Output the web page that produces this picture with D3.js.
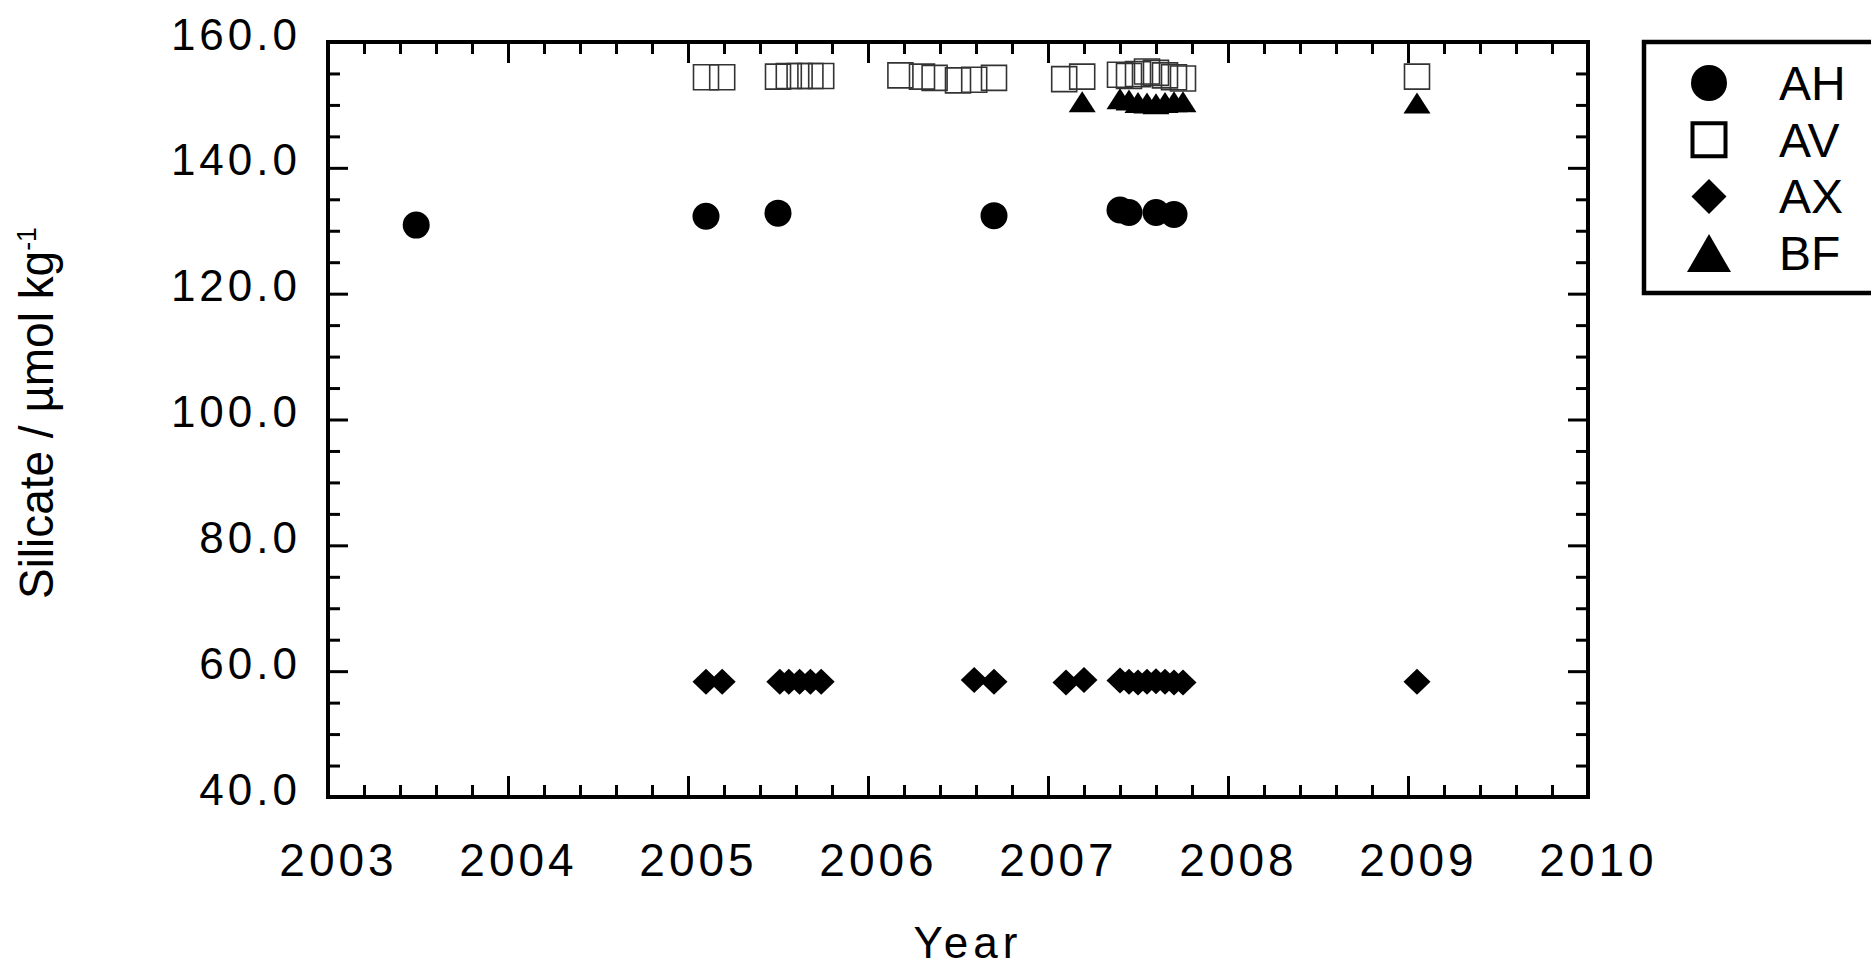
<!DOCTYPE html>
<html>
<head>
<meta charset="utf-8">
<script src="https://cdn.jsdelivr.net/npm/d3@7"></script>
<style>
  body { margin: 0; background: #fff; }
  text { font-family: "Liberation Sans", Arial, sans-serif; fill: #000; }
</style>
</head>
<body>
<div id="chart"></div>
<script>
// values
const yearTicks = [2003, 2004, 2005, 2006, 2007, 2008, 2009, 2010];
const siTicks = [40, 60, 80, 100, 120, 140, 160];

const ahYear = [2003.49, 2005.10, 2005.50, 2006.70, 2007.40, 2007.45, 2007.60, 2007.70];
const ahSi   = [130.9, 132.3, 132.8, 132.4, 133.3, 132.9, 132.9, 132.6];

const avYear = [2005.10, 2005.19, 2005.50, 2005.56, 2005.62, 2005.68, 2005.74,
                2006.18, 2006.30, 2006.37, 2006.50, 2006.59, 2006.70,
                2007.09, 2007.19, 2007.40, 2007.45, 2007.50, 2007.55, 2007.60, 2007.65, 2007.70, 2007.75,
                2009.05];
const avSi   = [154.4, 154.4, 154.5, 154.6, 154.6, 154.6, 154.6,
                154.7, 154.5, 154.3, 153.9, 154.0, 154.3,
                154.1, 154.5, 154.8, 154.6, 154.9, 155.3, 155.1, 154.7, 154.4, 154.2,
                154.5];

const axYear = [2005.10, 2005.19, 2005.51, 2005.56, 2005.62, 2005.68, 2005.74,
                2006.59, 2006.70, 2007.10, 2007.20,
                2007.40, 2007.45, 2007.50, 2007.55, 2007.60, 2007.65, 2007.70, 2007.75,
                2009.05];
const axSi   = [58.3, 58.3, 58.3, 58.3, 58.3, 58.3, 58.3,
                58.6, 58.3, 58.2, 58.6,
                58.5, 58.3, 58.2, 58.3, 58.4, 58.3, 58.2, 58.2,
                58.3];

const bfYear = [2007.19, 2007.40, 2007.45, 2007.50, 2007.55, 2007.60, 2007.65, 2007.70, 2007.75, 2009.05];
const bfSi   = [150.5, 151.0, 150.8, 150.4, 150.3, 150.2, 150.4, 150.5, 150.5, 150.3];

const seriesNames = ["AH", "AV", "AX", "BF"];

const width = 1871, height = 970;
const plotLeft = 328, plotRight = 1588, plotTop = 42, plotBottom = 797;

const svg = d3.select("#chart").append("svg")
    .attr("width", width)
    .attr("height", height);

const x = d3.scaleLinear().domain([2003, 2010]).range([plotLeft, plotRight]);
const y = d3.scaleLinear().domain([40, 160]).range([plotBottom, plotTop]);

const minorX = d3.range(2003, 2010.001, 0.2).filter(v => Math.abs(v - Math.round(v)) > 0.01);
const minorY = d3.range(40, 160.001, 5).filter(v => v % 20 !== 0);

function styleAxis(g) {
    g.select(".domain").remove();
    g.selectAll(".tick line").attr("stroke", "#000").attr("stroke-width", 3);
}

// minor and major ticks, all pointing inward
svg.append("g").attr("transform", `translate(0,${plotBottom})`)
    .call(d3.axisBottom(x).tickValues(minorX).tickSize(-12).tickFormat(""))
    .call(styleAxis);
svg.append("g").attr("transform", `translate(0,${plotTop})`)
    .call(d3.axisTop(x).tickValues(minorX).tickSize(-12).tickFormat(""))
    .call(styleAxis);
svg.append("g").attr("transform", `translate(0,${plotTop})`)
    .call(d3.axisTop(x).tickValues(yearTicks).tickSize(-21).tickFormat(""))
    .call(styleAxis);
svg.append("g").attr("transform", `translate(${plotLeft},0)`)
    .call(d3.axisLeft(y).tickValues(minorY).tickSize(-12).tickFormat(""))
    .call(styleAxis);
svg.append("g").attr("transform", `translate(${plotRight},0)`)
    .call(d3.axisRight(y).tickValues(minorY).tickSize(-12).tickFormat(""))
    .call(styleAxis);
svg.append("g").attr("transform", `translate(${plotRight},0)`)
    .call(d3.axisRight(y).tickValues(siTicks).tickSize(-20).tickFormat(""))
    .call(styleAxis);

const xAxis = svg.append("g").attr("transform", `translate(0,${plotBottom})`)
    .call(d3.axisBottom(x).tickValues(yearTicks).tickSize(-21).tickFormat(d3.format("d")))
    .call(styleAxis);
xAxis.selectAll(".tick text")
    .attr("y", 79).attr("dy", 0).attr("x", 10)
    .style("font-size", "46px")
    .style("letter-spacing", "4px")
    .style("font-family", "'Liberation Sans', Arial, sans-serif");

const yAxis = svg.append("g").attr("transform", `translate(${plotLeft},0)`)
    .call(d3.axisLeft(y).tickValues(siTicks).tickSize(-20).tickFormat(d3.format(".1f")))
    .call(styleAxis);
yAxis.selectAll(".tick text")
    .attr("x", -27).attr("dy", 7)
    .style("font-size", "44px")
    .style("letter-spacing", "4px")
    .style("font-family", "'Liberation Sans', Arial, sans-serif");

// frame
svg.append("rect")
    .attr("x", plotLeft).attr("y", plotTop)
    .attr("width", plotRight - plotLeft).attr("height", plotBottom - plotTop)
    .attr("fill", "none").attr("stroke", "#000").attr("stroke-width", 4);

// axis titles
svg.append("text")
    .attr("x", 968).attr("y", 958)
    .attr("text-anchor", "middle")
    .style("font-size", "44px")
    .style("letter-spacing", "5px")
    .text("Year");

const yTitle = svg.append("text")
    .attr("transform", "translate(53,413) rotate(-90)")
    .attr("text-anchor", "middle")
    .attr("textLength", 372)
    .attr("lengthAdjust", "spacingAndGlyphs")
    .style("font-size", "48px");
yTitle.append("tspan").text("Silicate / \u00b5mol kg");
yTitle.append("tspan").attr("dy", -17).style("font-size", "28px").text("-1");

// symbols
function circlePath(r) { return `M${-r},0A${r},${r} 0 1,0 ${r},0A${r},${r} 0 1,0 ${-r},0Z`; }
function squarePath(s) { const h = s / 2; return `M${-h},${-h}H${h}V${h}H${-h}Z`; }
function diamondPath(w, h) { return `M0,${-h}L${w},0L0,${h}L${-w},0Z`; }
function trianglePath(w, h) { return `M0,${-h / 2}L${w / 2},${h / 2}L${-w / 2},${h / 2}Z`; }

const series = [
    { name: "AH", years: ahYear, vals: ahSi, path: circlePath(13.5), fill: "#000", stroke: "none", sw: 0,
      legendPath: circlePath(18) },
    { name: "AV", years: avYear, vals: avSi, path: squarePath(25), fill: "none", stroke: "#333", sw: 1.6,
      legendPath: squarePath(33), legendSw: 4 },
    { name: "AX", years: axYear, vals: axSi, path: diamondPath(13.5, 13), fill: "#000", stroke: "none", sw: 0,
      legendPath: diamondPath(17.5, 17.5) },
    { name: "BF", years: bfYear, vals: bfSi, path: trianglePath(27, 21), fill: "#000", stroke: "none", sw: 0,
      legendPath: trianglePath(44, 38) }
];

series.forEach(s => {
    const pts = s.years.map((yr, i) => ({ yr: yr, v: s.vals[i] }));
    svg.append("g").selectAll("path")
        .data(pts)
        .enter()
        .append("path")
        .attr("d", s.path)
        .attr("transform", d => `translate(${x(d.yr)},${y(d.v)})`)
        .attr("fill", s.fill)
        .attr("stroke", s.stroke)
        .attr("stroke-width", s.sw);
});

// legend
const legend = svg.append("g").attr("class", "legend");
legend.append("rect")
    .attr("x", 1644).attr("y", 42)
    .attr("width", 260).attr("height", 251)
    .attr("fill", "#fff").attr("stroke", "#000").attr("stroke-width", 4.5);

seriesNames.forEach((name, i) => {
    const s = series[i];
    const cy = 83 + i * 56.7;
    legend.append("path")
        .attr("d", s.legendPath)
        .attr("transform", `translate(1709,${cy})`)
        .attr("fill", s.fill)
        .attr("stroke", s.stroke === "none" ? "none" : "#000")
        .attr("stroke-width", s.legendSw || 0);
    legend.append("text")
        .attr("x", 1779).attr("y", cy + 17)
        .style("font-size", "48px")
        .text(name);
});
</script>
</body>
</html>
